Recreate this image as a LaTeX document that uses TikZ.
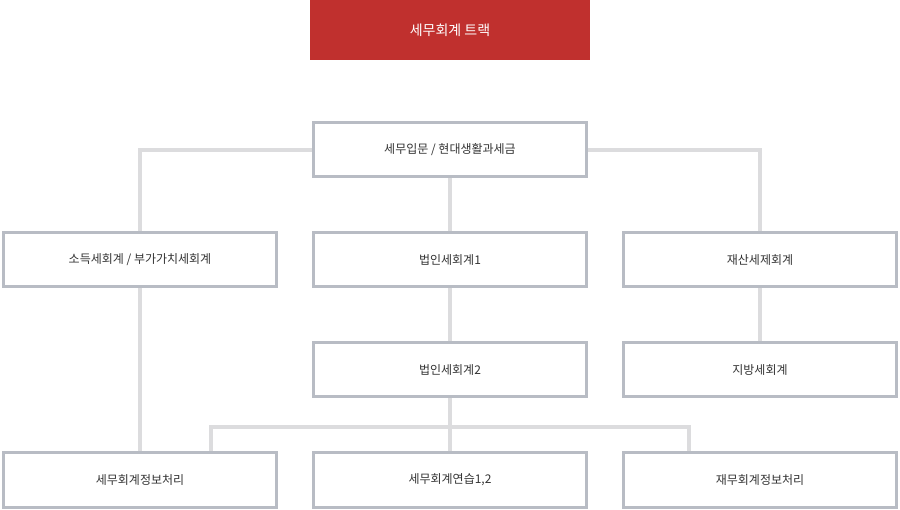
\documentclass[tikz,border=0pt]{standalone}
\usepackage{fontspec}
\newfontfamily\kr{Noto Sans CJK KR}
\definecolor{boxline}{HTML}{B8BCC4}
\definecolor{conn}{HTML}{DCDCDE}
\definecolor{red1}{HTML}{C0302E}
\definecolor{txt}{HTML}{333333}
\begin{document}
\begin{tikzpicture}[x=1pt,y=-1pt,
  bx/.style={draw=boxline,line width=3pt,fill=white,minimum width=273pt,minimum height=54pt,inner sep=0pt,font=\kr\fontsize{12}{14}\selectfont,text=txt},
  cn/.style={draw=conn,line width=4pt}]
\useasboundingbox (0,0) rectangle (900,510);
\node[fill=red1,minimum width=280pt,minimum height=60pt,inner sep=0pt,text=white,font=\kr\fontsize{14}{16}\selectfont] (title) at (450,30) {세무회계 트랙};
\coordinate (lc) at (140,150); \coordinate (rc) at (760,150);
\coordinate (j) at (450,427); \coordinate (jl) at (211,427); \coordinate (jr) at (689,427);
\path (450,150) coordinate (p0) (140,260) coordinate (p21) (450,260) coordinate (p22) (760,260) coordinate (p23)
 (450,370) coordinate (p32) (760,370) coordinate (p33) (140,480) coordinate (p41) (450,480) coordinate (p42) (760,480) coordinate (p43);
\draw[cn] (p0) -- (lc) -- (p21);
\draw[cn] (p0) -- (rc) -- (p23);
\draw[cn] (p0) -- (p22) -- (p32) -- (j);
\draw[cn] (p21) -- (p41);
\draw[cn] (p23) -- (p33);
\draw[cn] (jl |- p42) -- (jl) -- (jr) -- (jr |- p42);
\draw[cn] (j) -- (p42);
\node[bx] (a) at (p0) {세무입문 / 현대생활과세금};
\node[bx] (b1) at (p21) {소득세회계 / 부가가치세회계};
\node[bx] (b2) at (p22) {법인세회계1};
\node[bx] (b3) at (p23) {재산세제회계};
\node[bx] (c2) at (p32) {법인세회계2};
\node[bx] (c3) at (p33) {지방세회계};
\node[bx] (d1) at (p41) {세무회계정보처리};
\node[bx] (d2) at (p42) {세무회계연습1,2};
\node[bx] (d3) at (p43) {재무회계정보처리};
\end{tikzpicture}
\end{document}
